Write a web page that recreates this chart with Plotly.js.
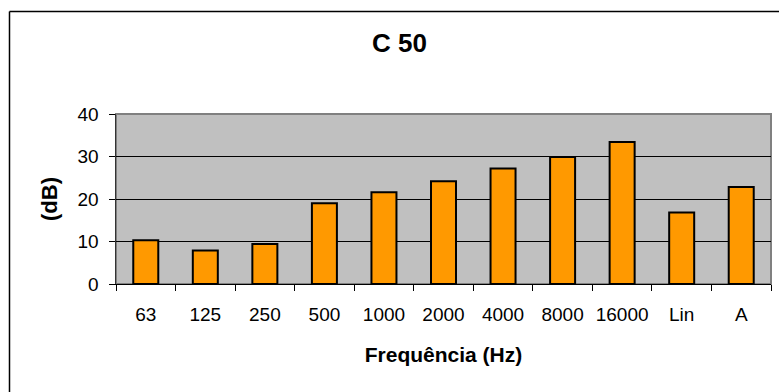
<!DOCTYPE html>
<html>
<head>
<meta charset="utf-8">
<script src="https://cdn.plot.ly/plotly-3.0.1.min.js"></script>
<style>html,body{margin:0;padding:0;background:#fff;}#chart{width:779px;height:392px;}</style>
</head>
<body>
<div id="chart"></div>
<script>
const categories = ["63", "125", "250", "500", "1000", "2000", "4000", "8000", "16000", "Lin", "A"];
const values = [10.3, 7.9, 9.4, 19.0, 21.6, 24.2, 27.2, 29.9, 33.4, 16.8, 22.8];
const yTicks = [0, 10, 20, 30, 40];
const chartTitle = "C 50";
const xTitle = "Frequência (Hz)";
const yTitle = "(dB)";

const font = "Liberation Sans";

const trace = {
  type: "bar",
  x: categories,
  y: values,
  marker: { color: "#FF9900", line: { color: "#000000", width: 2 } },
  hoverinfo: "x+y"
};

// outer chart frame: only the left and top edges fall inside the picture
const fx0 = -0.1626, fy1 = 1.603;

const layout = {
  width: 779,
  height: 392,
  margin: { l: 116, r: 8, t: 114, b: 108 },
  paper_bgcolor: "#ffffff",
  plot_bgcolor: "#C0C0C0",
  showlegend: false,
  bargap: 0.58,
  font: { family: font, color: "#000" },
  title: {
    text: chartTitle,
    font: { family: font, size: 26, color: "#000", weight: "bold" },
    xref: "container", x: 0.5128, xanchor: "center",
    yref: "container", y: 0.89, yanchor: "middle"
  },
  xaxis: {
    type: "category",
    tickson: "boundaries",
    ticks: "outside",
    ticklen: 6,
    tickcolor: "#000",
    tickwidth: 1,
    tickangle: 0,
    showline: true,
    linecolor: "#000",
    linewidth: 1,
    showgrid: false,
    tickfont: { family: font, size: 19, color: "#000" },
    ticklabelstandoff: 13,
    title: { text: xTitle, font: { family: font, size: 21, color: "#000", weight: "bold" }, standoff: 23 },
    automargin: false
  },
  yaxis: {
    range: [0, 40],
    tickvals: yTicks,
    ticktext: yTicks.map(String),
    ticks: "outside",
    ticklen: 6,
    tickcolor: "#000",
    showline: true,
    linecolor: "#333",
    linewidth: 1.5,
    showgrid: true,
    gridcolor: "#000",
    gridwidth: 1,
    zeroline: false,
    tickfont: { family: font, size: 19, color: "#000" },
    ticklabelstandoff: 6,
    title: { text: yTitle, font: { family: font, size: 22, color: "#000", weight: "bold" }, standoff: 14 },
    automargin: false
  },
  shapes: [
    { type: "rect", xref: "paper", yref: "paper", x0: 0, x1: 1, y0: 0, y1: 1,
      line: { color: "#808080", width: 2 }, layer: "below" },
    { type: "line", xref: "paper", yref: "paper", x0: fx0, x1: fx0, y0: -0.8, y1: fy1,
      line: { color: "#000", width: 1.5 } },
    { type: "line", xref: "paper", yref: "paper", x0: fx0, x1: 1.1, y0: fy1, y1: fy1,
      line: { color: "#000", width: 1.5 } }
  ]
};

Plotly.newPlot("chart", [trace], layout, { displayModeBar: false, staticPlot: true });
</script>
</body>
</html>
